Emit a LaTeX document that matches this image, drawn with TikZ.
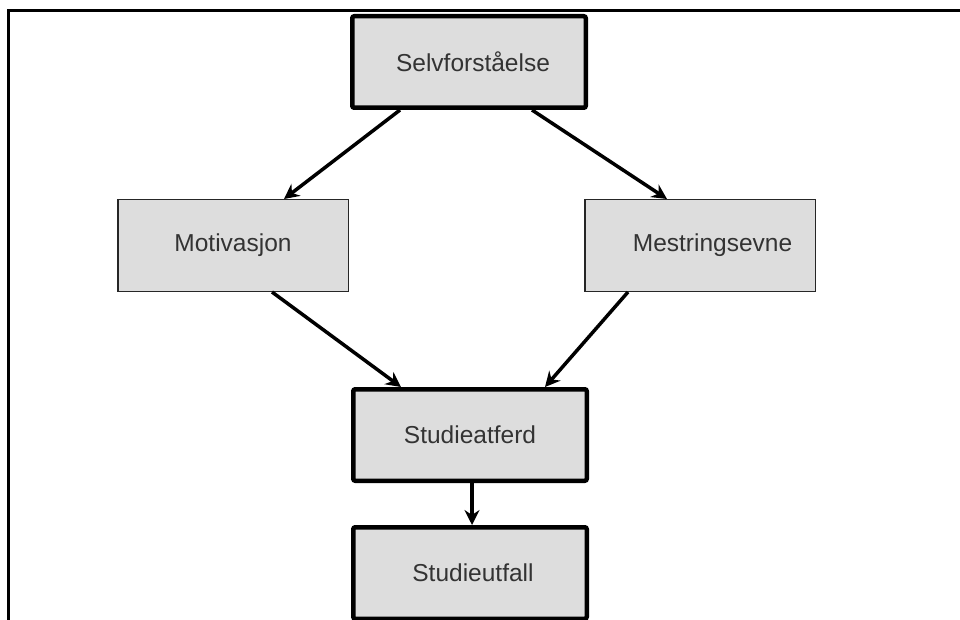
\documentclass[tikz,border=0pt]{standalone}
\usepackage{fontspec}
\setmainfont{Liberation Sans}
\usetikzlibrary{arrows.meta}
\definecolor{boxfill}{HTML}{DDDDDD}
\definecolor{txt}{HTML}{333333}
\tikzset{
  thickbox/.style={draw=black, fill=boxfill, line width=4.5pt, rounded corners=2pt,
    minimum width=233.5pt, minimum height=91.5pt, inner sep=0pt,
    font=\fontsize{24.5}{28}\selectfont, text=txt},
  thinbox/.style={draw=black!85, fill=boxfill, line width=1.5pt,
    minimum width=230.5pt, minimum height=91.5pt, inner sep=0pt,
    font=\fontsize{24.5}{28}\selectfont, text=txt},
  arr/.style={line width=3.5pt, -{Stealth[length=15pt, width=15pt, inset=5pt]}},
}
\begin{document}
\begin{tikzpicture}[x=1pt, y=-1pt]
\useasboundingbox (0,0) rectangle (960,620);
\fill[white] (0,0) rectangle (960,620);
\draw[line width=3.5pt] (8.5,620) -- (8.5,10.5) -- (960,10.5);
\node[thickbox] (S) at (469,62) {\hspace*{8pt}Selvforståelse};
\node[thinbox] (M) at (233,245.5) {Motivasjon};
\node[thinbox] (E) at (700,245.5) {\hspace*{25pt}Mestringsevne};
\node[thickbox] (A) at (470,435) {Studieatferd};
\node[thickbox] (U) at (470,573) {\hspace*{6pt}Studieutfall};
\draw[arr] ([xshift=-69pt]S.south) -- ([xshift=51pt]M.north);
\draw[arr] ([xshift=63pt]S.south) -- ([xshift=-33pt]E.north);
\draw[arr] ([xshift=39pt]M.south) -- ([xshift=-69pt]A.north);
\draw[arr] ([xshift=-72pt]E.south) -- ([xshift=75pt]A.north);
\draw[arr] ([xshift=2pt]A.south) -- ([xshift=2pt]U.north);
\end{tikzpicture}
\end{document}
